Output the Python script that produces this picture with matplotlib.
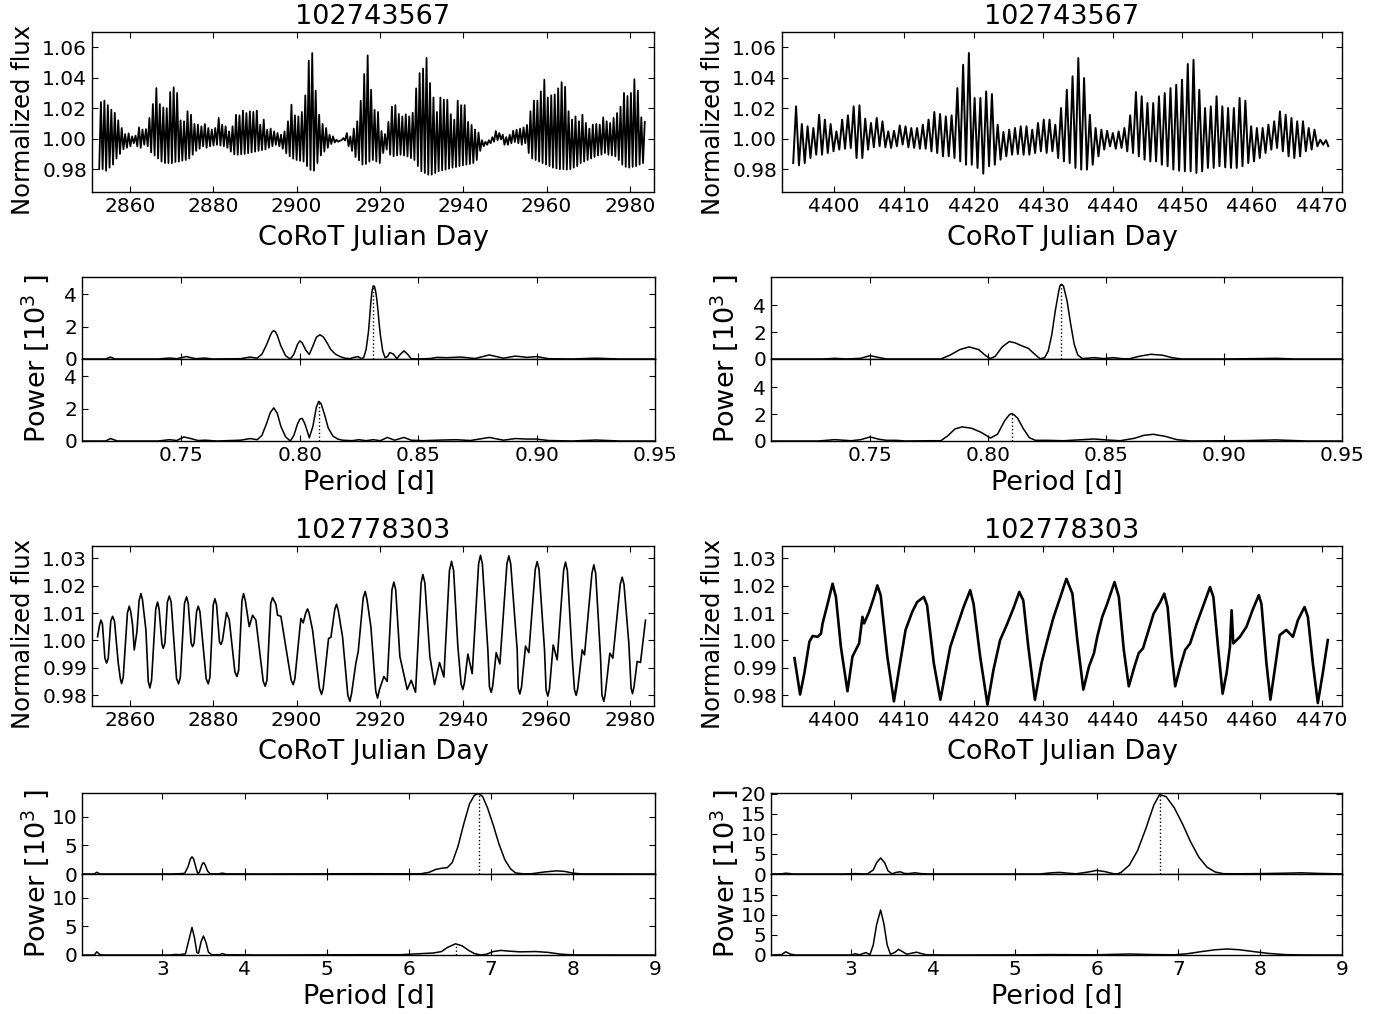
import numpy as np
import matplotlib
matplotlib.use("Agg")
import matplotlib.pyplot as plt

plt.rcParams['font.family'] = ['DejaVu Sans']
plt.rcParams['xtick.direction'] = 'in'
plt.rcParams['ytick.direction'] = 'in'
plt.rcParams['xtick.top'] = True
plt.rcParams['ytick.right'] = True
plt.rcParams['xtick.major.size'] = 4
plt.rcParams['ytick.major.size'] = 4
plt.rcParams['xtick.labelsize'] = 14.5
plt.rcParams['ytick.labelsize'] = 14.5
plt.rcParams['axes.linewidth'] = 1.0

# ---------------- data ----------------
titles = ["102743567", "102743567", "102778303", "102778303"]

# Star 102743567, run 1: peak and trough flux per pulsation cycle
lc1a_t0, lc1a_period = 2853.04, 0.8315
lc1a_peaks = [1.024, 1.025, 1.022, 1.019, 1.017, 1.012, 1.007, 1.003, 1.0035, 1.0015,
              1.002, 1.0074, 1.006, 1.0063, 1.0136, 1.0227, 1.0332, 1.0227, 1.0205, 1.020,
              1.0306, 1.0337, 1.030, 1.012, 1.0114, 1.018, 1.0157, 1.0096, 1.0092, 1.0081,
              1.0096, 1.007, 1.006, 1.007, 1.0136, 1.0092, 1.0081, 1.0048, 1.0081, 1.0157,
              1.0153, 1.0184, 1.0168, 1.0179, 1.0175, 1.0184, 1.0092, 1.0125, 1.0059, 1.0066,
              1.0048, 1.0037, 1.0026, 1.0048, 1.0114, 1.0223, 1.0153, 1.0146, 1.0175, 1.0284,
              1.0512, 1.0562, 1.0315, 1.0157, 1.0096, 1.007, 1.0026, 1.0015, 0.9993, 0.9987,
              1.0004, 1.0037, 1.0015, 1.0066, 1.0114, 1.0249, 1.0424, 1.0547, 1.0321, 1.019,
              1.0175, 1.005, 1.003, 1.011, 1.021, 1.022, 1.0162, 1.0146, 1.016, 1.0146,
              1.017, 1.033, 1.043, 1.046, 1.053, 1.0365, 1.027, 1.0175, 1.027, 1.0256,
              1.0256, 1.016, 1.0125, 1.025, 1.022, 1.022, 1.011, 1.009, 1.006, 1.004,
              0.999, 0.998, 0.999, 1.001, 1.005, 1.0037, 1.0026, 1.001, 1.0026, 1.0052,
              1.0059, 1.0066, 1.0074, 1.009, 1.018, 1.025, 1.025, 1.031, 1.0387, 1.027,
              1.0284, 1.029, 1.033, 1.037, 1.034, 1.018, 1.0125, 1.0146, 1.0114, 1.0157,
              1.0103, 1.0066, 1.0092, 1.0096, 1.0092, 1.014, 1.0114, 1.0103, 1.0136, 1.0168,
              1.021, 1.030, 1.028, 1.030, 1.039, 1.0315, 1.014, 1.011]
lc1a_troughs = [0.980, 0.980, 0.979, 0.981, 0.983, 0.987, 0.990, 0.993, 0.994, 0.995,
                0.997, 0.995, 0.994, 0.996, 0.995, 0.991, 0.989, 0.987, 0.985, 0.984,
                0.984, 0.984, 0.9847, 0.985, 0.9856, 0.986, 0.987, 0.9895, 0.992, 0.9934,
                0.995, 0.994, 0.995, 0.9955, 0.996, 0.9955, 0.995, 0.994, 0.9915, 0.9897,
                0.9895, 0.9898, 0.990, 0.9905, 0.991, 0.9915, 0.992, 0.9925, 0.993, 0.994,
                0.995, 0.996, 0.995, 0.9934, 0.9905, 0.9884, 0.9869, 0.986, 0.9855, 0.985,
                0.982, 0.9795, 0.979, 0.984, 0.989, 0.9915, 0.994, 0.9965, 0.9975, 0.998,
                0.999, 0.9988, 0.995, 0.992, 0.988, 0.9858, 0.983, 0.9834, 0.985, 0.986,
                0.985, 0.984, 0.9906, 0.9928, 0.9895, 0.9884, 0.989, 0.9895, 0.989, 0.9884,
                0.9873, 0.986, 0.982, 0.9786, 0.9775, 0.9764, 0.9764, 0.9775, 0.9786, 0.9792,
                0.9797, 0.9803, 0.981, 0.9814, 0.982, 0.9825, 0.983, 0.9834, 0.984, 0.986,
                0.992, 0.995, 0.996, 0.997, 0.998, 0.999, 0.9995, 0.996, 0.996, 0.997,
                0.9978, 0.997, 0.996, 0.997, 0.9906, 0.987, 0.986, 0.985, 0.984, 0.983,
                0.982, 0.981, 0.9805, 0.980, 0.980, 0.9797, 0.980, 0.981, 0.982, 0.984,
                0.985, 0.986, 0.987, 0.988, 0.989, 0.9895, 0.9906, 0.9895, 0.989, 0.9884,
                0.986, 0.983, 0.9815, 0.981, 0.9815, 0.982, 0.983, 0.984]

# Star 102743567, run 2
lc1b_t0, lc1b_period = 4394.52, 0.827
lc1b_peaks = [1.0212, 1.0096, 1.0081, 1.0070, 1.0157, 1.0125, 1.0096, 1.0048, 1.0125, 1.0153,
              1.0212, 1.0219, 1.0131, 1.0103, 1.0136, 1.0114, 1.0048, 1.0052, 1.0087, 1.0081,
              1.0070, 1.0070, 1.0092, 1.0125, 1.0175, 1.0162, 1.0146, 1.0153, 1.0332, 1.0485,
              1.0562, 1.0267, 1.0267, 1.0310, 1.0293, 1.0092, 1.0044, 1.0059, 1.0070, 1.0081,
              1.0081, 1.0059, 1.0103, 1.0125, 1.0125, 1.0092, 1.0201, 1.0321,
              1.0409, 1.0529, 1.0398, 1.0157, 1.0070, 1.0059, 1.0052, 1.0037, 1.0048, 1.0070,
              1.0153, 1.0306, 1.0278, 1.0234, 1.0234, 1.0278, 1.0299, 1.0332, 1.0354, 1.0387,
              1.0490, 1.0518, 1.0321, 1.0201, 1.0212, 1.0278, 1.0212, 1.0201, 1.0201, 1.0267,
              1.0249, 1.0081, 1.0070, 1.0070, 1.0092, 1.0114, 1.0179, 1.0157, 1.0136, 1.0114,
              1.0114, 1.0070, 1.0059, 0.9993, 0.999]
lc1b_troughs = [0.984, 0.9825, 0.984, 0.9873, 0.9895, 0.9895, 0.9906, 0.9917, 0.9928, 0.9934,
                0.9939, 0.9873, 0.9873, 0.9928, 0.9943, 0.9950, 0.9943, 0.9939, 0.9950, 0.9961,
                0.9943, 0.9939, 0.9934, 0.9934, 0.9917, 0.9906, 0.9884, 0.9884, 0.9873, 0.9851,
                0.9829, 0.9829, 0.9808, 0.977, 0.9819, 0.9829, 0.9862, 0.9884, 0.9895, 0.9899,
                0.9895, 0.9895, 0.9906, 0.9917, 0.9906, 0.9917, 0.9873, 0.9851,
                0.984, 0.9808, 0.9797, 0.9797, 0.9829, 0.9884, 0.9928, 0.995, 0.9934, 0.9939,
                0.9917, 0.9906, 0.9884, 0.9862, 0.9851, 0.9851, 0.9829, 0.9819, 0.9797, 0.979,
                0.9786, 0.9786, 0.9775, 0.9786, 0.9808, 0.9808, 0.9819, 0.9812, 0.9808, 0.9808,
                0.9819, 0.984, 0.9851, 0.9873, 0.9906, 0.9928, 0.9939, 0.9917, 0.9884, 0.9873,
                0.9884, 0.9917, 0.9928, 0.995, 0.996]
lc1b_end = 0.995

# Star 102778303, run 1
lc2a_t = [2852.24, 2852.70, 2853.04, 2853.40, 2854.00, 2854.40, 2854.80, 2855.40, 2855.84, 2856.30,
          2857.20, 2857.70, 2858.00, 2858.40, 2859.40, 2859.84, 2860.20, 2860.64, 2861.04, 2861.68,
          2862.20, 2862.64, 2863.00, 2863.84, 2864.40, 2864.80, 2865.20, 2866.20, 2866.64, 2867.00,
          2867.70, 2868.00, 2868.40, 2869.00, 2869.44, 2869.90, 2871.20, 2871.68, 2872.10, 2873.10,
          2873.60, 2874.00, 2874.70, 2875.04, 2875.40, 2876.00, 2876.40, 2876.80, 2878.30, 2878.80,
          2879.20, 2880.00, 2880.40, 2880.80, 2881.50, 2881.84, 2882.20, 2883.20, 2883.84, 2885.20,
          2885.68, 2886.10, 2886.90, 2887.28, 2887.70, 2888.64, 2889.44, 2890.24, 2892.00, 2892.48,
          2892.90, 2893.80, 2894.24, 2895.04, 2895.44, 2896.24, 2898.70, 2899.20, 2899.60, 2901.04,
          2901.60, 2902.20, 2902.64, 2903.00, 2903.84, 2905.50, 2906.00, 2906.40, 2907.68, 2908.24,
          2909.20, 2909.60, 2910.00, 2911.04, 2912.30, 2912.80, 2913.20, 2914.24, 2914.80, 2916.00,
          2916.48, 2916.90, 2917.84, 2919.00, 2919.44, 2919.90, 2920.96, 2921.76, 2922.90, 2923.36,
          2923.80, 2924.80, 2926.56, 2927.52, 2928.56, 2929.90, 2930.32, 2930.80, 2932.00, 2933.12,
          2934.32, 2935.36, 2936.70, 2937.20, 2937.70, 2938.72, 2939.50, 2939.92, 2940.30, 2941.12,
          2942.16, 2943.70, 2944.16, 2944.60, 2945.92, 2946.30, 2946.72, 2947.10, 2947.92, 2948.80,
          2950.50, 2950.96, 2951.40, 2952.96, 2953.20, 2953.60, 2954.00, 2954.96, 2955.76, 2957.30,
          2957.76, 2958.20, 2959.52, 2959.90, 2960.32, 2960.70, 2961.60, 2962.56, 2964.10, 2964.56,
          2965.00, 2966.16, 2966.70, 2967.12, 2967.50, 2968.56, 2969.12, 2970.90, 2971.36, 2971.80,
          2972.96, 2973.30, 2973.76, 2974.10, 2975.20, 2975.92, 2977.70, 2978.16, 2978.60, 2979.76,
          2980.30, 2980.64, 2981.00, 2981.76, 2982.56, 2983.76]
lc2a_f = [1.0013, 1.0055, 1.0074, 1.0060, 0.9935, 0.9917, 0.9935, 1.0070, 1.0088, 1.0070,
          0.9917, 0.9860, 0.9842, 0.9865, 1.0100, 1.0125, 1.0105, 1.0056, 0.9965, 1.0031,
          1.0145, 1.0171, 1.0150, 1.0038, 0.9850, 0.9826, 0.9855, 1.0115, 1.0140, 1.0115,
          0.9985, 0.9971, 0.9990, 1.0140, 1.0162, 1.0140, 0.9860, 0.9841, 0.9865, 1.0135,
          1.0159, 1.0135, 0.9990, 0.9977, 0.9990, 1.0105, 1.0125, 1.0105, 0.9860, 0.9841,
          0.9865, 1.0130, 1.0152, 1.0130, 0.9995, 0.9985, 0.9998, 1.0102, 1.0076, 0.9885,
          0.9868, 0.9890, 1.0145, 1.0171, 1.0145, 1.0050, 1.0092, 1.0074, 0.9850, 0.9832,
          0.9855, 1.0135, 1.0156, 1.0132, 1.0092, 1.0088, 0.9855, 0.9838, 0.9860, 1.0080,
          1.0064, 1.0100, 1.0115, 1.0100, 1.0038, 0.9825, 0.9802, 0.9825, 1.0007, 1.0011,
          1.0115, 1.0132, 1.0110, 1.0013, 0.9800, 0.9777, 0.9805, 0.9917, 0.9959, 1.0155,
          1.0179, 1.0150, 1.0050, 0.9815, 0.9789, 0.9820, 0.9868, 0.9850, 1.0185, 1.0213,
          1.0185, 0.9941, 0.9820, 0.9854, 0.9810, 1.0210, 1.0241, 1.0210, 0.9941, 0.9838,
          0.9919, 0.9866, 1.0255, 1.0289, 1.0255, 0.9977, 0.9840, 0.9820, 0.9845, 0.9950,
          0.9878, 1.0280, 1.0311, 1.0280, 0.9965, 0.9830, 0.9810, 0.9835, 0.9955, 0.9914,
          1.0280, 1.0309, 1.0280, 0.9965, 0.9825, 0.9804, 0.9830, 0.9979, 0.9955, 1.0260,
          1.0288, 1.0260, 0.9965, 0.9818, 0.9796, 0.9822, 0.9983, 0.9929, 1.0255, 1.0286,
          1.0255, 0.9941, 0.9820, 0.9799, 0.9825, 0.9965, 0.9947, 1.0245, 1.0276, 1.0245,
          0.9941, 0.9800, 0.9777, 0.9805, 0.9953, 0.9935, 1.0205, 1.0231, 1.0205, 0.9989,
          0.9825, 0.9805, 0.9830, 0.9923, 0.9919, 1.0074]

# Star 102778303, run 2
lc2b_t = [4394.29, 4395.10, 4395.71, 4396.43, 4396.90, 4397.62, 4398.10, 4398.33, 4399.05, 4399.76,
          4400.24, 4400.95, 4401.90, 4402.62, 4403.57, 4404.05, 4404.29, 4405.00, 4405.71, 4406.19,
          4406.67, 4407.62, 4408.57, 4409.29, 4410.24, 4411.19, 4411.90, 4412.86, 4413.33, 4414.29,
          4415.24, 4415.95, 4416.67, 4417.62, 4418.57, 4419.52, 4420.00, 4420.95, 4422.00, 4422.86,
          4423.81, 4424.76, 4425.71, 4426.57, 4427.14, 4427.86, 4428.81, 4429.76, 4430.48, 4431.43,
          4432.14, 4433.33, 4434.19, 4434.90, 4435.76, 4436.57, 4437.29, 4437.76, 4438.48, 4439.19,
          4440.24, 4440.86, 4441.57, 4442.29, 4443.10, 4443.71, 4444.33, 4445.14, 4445.86, 4446.81,
          4447.38, 4447.86, 4448.48, 4448.95, 4449.67, 4450.38, 4451.10, 4452.05, 4453.00, 4453.95,
          4454.43, 4455.14, 4455.76, 4456.33, 4456.81, 4457.05, 4457.29, 4458.24, 4459.19, 4460.05,
          4460.95, 4461.33, 4462.05, 4462.62, 4463.24, 4463.95, 4464.90, 4465.86, 4466.57, 4467.52,
          4468.00, 4468.71, 4469.43, 4470.14, 4470.86]
lc2b_f = [0.9935, 0.9802, 0.9880, 0.9995, 1.0016, 1.0013, 1.0025, 1.0062, 1.0134, 1.0207,
          1.0159, 0.9977, 0.9814, 0.9941, 0.9989, 1.0086, 1.0062, 1.0104, 1.0159, 1.0201,
          1.0165, 0.9941, 0.9777, 0.9892, 1.0038, 1.0104, 1.0140, 1.0159, 1.0128, 0.9917,
          0.9783, 0.9880, 0.9977, 1.0050, 1.0122, 1.0183, 1.0134, 0.9941, 0.9765, 0.9892,
          1.0001, 1.0056, 1.0116, 1.0177, 1.0146, 0.9977, 0.9783, 0.9917, 0.9989, 1.0080,
          1.0134, 1.0225, 1.0171, 1.0001, 0.9820, 0.9904, 0.9953, 1.0013, 1.0086, 1.0134,
          1.0213, 1.0159, 0.9965, 0.9832, 0.9904, 0.9953, 0.9971, 1.0038, 1.0098, 1.0140,
          1.0171, 1.0122, 0.9941, 0.9832, 0.9904, 0.9965, 0.9989, 1.0062, 1.0128, 1.0195,
          1.0159, 0.9965, 0.9805, 0.9880, 0.9977, 1.0110, 0.9989, 1.0013, 1.0050, 1.0110,
          1.0165, 1.0134, 0.9917, 0.9783, 0.9892, 1.0019, 1.0038, 1.0013, 1.0074, 1.0122,
          1.0086, 0.9917, 0.9771, 0.9880, 1.0001]

# Periodograms (period [d], power [10^3])
pg1a_top_p = [0.708, 0.718, 0.720, 0.722, 0.740, 0.745, 0.748, 0.752, 0.756, 0.760, 0.763, 0.775,
              0.779, 0.782, 0.784, 0.786, 0.7875, 0.7883, 0.789, 0.7897, 0.7905, 0.792, 0.794,
              0.796, 0.7975, 0.799, 0.800, 0.801, 0.8025, 0.804, 0.8055, 0.807, 0.8085, 0.810,
              0.8115, 0.813, 0.815, 0.817, 0.819, 0.821, 0.823, 0.8245, 0.826, 0.827, 0.828,
              0.829, 0.8295, 0.830, 0.8305, 0.831, 0.8315, 0.832, 0.8325, 0.833, 0.8335, 0.834,
              0.835, 0.836, 0.837, 0.838, 0.8395, 0.841, 0.8425, 0.844, 0.8455, 0.847, 0.850,
              0.855, 0.858, 0.862, 0.868, 0.874, 0.880, 0.886, 0.891, 0.896, 0.900, 0.905,
              0.915, 0.925, 0.935, 0.95]
pg1a_top_w = [0, 0, 0.12, 0, 0, 0.06, 0.02, 0.15, 0.02, 0.06, 0, 0.02,
              0.12, 0.05, 0.3, 0.9, 1.45, 1.68, 1.75, 1.68, 1.45, 0.8, 0.2,
              0.0, 0.3, 0.9, 1.12, 1.0, 0.55, 0.28, 0.8, 1.35, 1.5, 1.35,
              1.0, 0.6, 0.3, 0.15, 0.05, 0.02, 0.1, 0.15, 0.02, 0.1, 0.6,
              1.7, 2.6, 3.5, 4.2, 4.52, 4.5, 4.2, 3.7, 3.0, 2.2, 1.5,
              0.5, 0.08, 0.15, 0.4, 0.3, 0.03, 0.3, 0.5, 0.3, 0.02, 0,
              0.03, 0.1, 0.08, 0.12, 0.03, 0.25, 0.05, 0.18, 0.1, 0.15, 0.02,
              0.0, 0.05, 0, 0]
pg1a_bot_p = [0.708, 0.718, 0.720, 0.723, 0.740, 0.745, 0.748, 0.751, 0.754, 0.757, 0.760, 0.765,
              0.775, 0.779, 0.782, 0.784, 0.786, 0.7875, 0.789, 0.7905, 0.792, 0.794, 0.796,
              0.7975, 0.799, 0.800, 0.801, 0.802, 0.8025, 0.804, 0.8055, 0.807, 0.808, 0.809,
              0.8105, 0.812, 0.814, 0.816, 0.818, 0.822, 0.825, 0.828, 0.831, 0.834, 0.837,
              0.840, 0.844, 0.847, 0.852, 0.860, 0.866, 0.872, 0.880, 0.886, 0.891, 0.896,
              0.900, 0.905, 0.915, 0.925, 0.935, 0.95]
pg1a_bot_w = [0, 0, 0.15, 0, 0, 0.08, 0.03, 0.25, 0.15, 0.03, 0.05, 0,
              0.05, 0.15, 0.08, 0.35, 1.1, 1.75, 2.05, 1.7, 0.9, 0.25, 0.0,
              0.35, 1.05, 1.35, 1.4, 1.1, 0.9, 0.2, 0.9, 2.1, 2.45, 2.3,
              1.6, 0.8, 0.3, 0.12, 0.05, 0.02, 0.08, 0.02, 0.08, 0.02, 0.22,
              0.05, 0.22, 0.05, 0.02, 0.06, 0.08, 0.03, 0.22, 0.05, 0.15, 0.12,
              0.12, 0.03, 0.0, 0.06, 0, 0]
pg1b_top_p = [0.708, 0.730, 0.735, 0.740, 0.746, 0.750, 0.754, 0.757, 0.770, 0.780, 0.784, 0.788,
              0.792, 0.796, 0.799, 0.801, 0.803, 0.806, 0.809, 0.8115, 0.814, 0.817, 0.8195,
              0.822, 0.824, 0.8255, 0.827, 0.8285, 0.830, 0.8305, 0.831, 0.8315, 0.832, 0.8335,
              0.835, 0.8365, 0.838, 0.840, 0.845, 0.849, 0.853, 0.857, 0.860, 0.864, 0.869,
              0.874, 0.878, 0.882, 0.900, 0.915, 0.922, 0.930, 0.95]
pg1b_top_w = [0, 0, 0.05, 0, 0.05, 0.25, 0.1, 0.0, 0, 0.0, 0.3, 0.7,
              0.9, 0.7, 0.25, 0.03, 0.2, 0.9, 1.3, 1.2, 1.0, 0.8, 0.4,
              0.02, 0.1, 0.6, 1.8, 3.6, 5.1, 5.45, 5.55, 5.52, 5.4, 4.3,
              2.6, 1.1, 0.3, 0.03, 0.1, 0.03, 0.1, 0.02, 0.02, 0.2, 0.35,
              0.28, 0.1, 0.0, 0, 0.03, 0.05, 0, 0]
pg1b_bot_p = [0.708, 0.728, 0.735, 0.742, 0.746, 0.750, 0.754, 0.757, 0.761, 0.765, 0.775, 0.780,
              0.783, 0.786, 0.789, 0.793, 0.797, 0.801, 0.804, 0.807, 0.809, 0.810, 0.811,
              0.8125, 0.815, 0.8175, 0.820, 0.825, 0.832, 0.840, 0.845, 0.850, 0.856, 0.862,
              0.866, 0.870, 0.875, 0.880, 0.886, 0.910, 0.922, 0.935, 0.95]
pg1b_bot_w = [0, 0, 0.1, 0.02, 0.1, 0.3, 0.12, 0.05, 0.05, 0, 0.02, 0.02,
              0.4, 0.9, 1.05, 0.95, 0.65, 0.22, 0.5, 1.5, 1.95, 2.05, 1.95,
              1.7, 0.9, 0.25, 0.05, 0.05, 0.02, 0.1, 0.15, 0.08, 0.02, 0.2,
              0.42, 0.5, 0.35, 0.1, 0.0, 0.03, 0.08, 0.0, 0]
pg2a_top_p = [2.02, 2.17, 2.2, 2.24, 3.1, 3.2, 3.27, 3.31, 3.34, 3.36, 3.38, 3.41, 3.43, 3.45,
              3.48, 3.5, 3.52, 3.55, 3.58, 3.68, 3.73, 3.78, 4.2, 5.5, 6.0, 6.15, 6.25, 6.33,
              6.4, 6.47, 6.53, 6.6, 6.67, 6.74, 6.8, 6.85, 6.9, 6.96, 7.03, 7.1, 7.17, 7.24,
              7.3, 7.4, 7.5, 7.65, 7.8, 7.9, 8.0, 8.1, 9.0]
pg2a_top_w = [0, 0, 0.3, 0, 0, 0.05, 0.1, 1.2, 2.6, 3.0, 2.6, 1.0, 0.1, 0.3,
              1.6, 2.0, 1.6, 0.5, 0.05, 0.02, 0.15, 0.02, 0, 0.05, 0.02, 0.05, 0.3, 0.8,
              1.0, 1.1, 2.0, 4.8, 8.7, 12.2, 13.7, 14.0, 13.5, 11.5, 8.5, 5.2, 2.5, 0.9,
              0.2, 0.02, 0.05, 0.35, 0.55, 0.45, 0.15, 0.02, 0]
pg2a_bot_p = [2.02, 2.17, 2.2, 2.24, 2.3, 3.1, 3.16, 3.2, 3.28, 3.32, 3.36, 3.39, 3.42, 3.44,
              3.47, 3.5, 3.53, 3.56, 3.6, 3.7, 3.73, 3.77, 4.2, 5.5, 5.9, 6.1, 6.3, 6.4,
              6.47, 6.57, 6.65, 6.73, 6.8, 6.88, 6.95, 7.03, 7.12, 7.2, 7.35, 7.55, 7.7,
              7.85, 8.0, 9.0]
pg2a_bot_w = [0, 0, 0.55, 0.05, 0, 0, 0.1, 0.05, 0.2, 2.5, 4.8, 3.0, 0.4, 0.3,
              2.3, 3.3, 2.2, 0.5, 0.05, 0.05, 0.25, 0.05, 0, 0.05, 0.05, 0.2, 0.35, 0.6,
              1.3, 1.95, 1.6, 0.8, 0.25, 0.0, 0.15, 0.6, 0.8, 0.7, 0.55, 0.6, 0.45,
              0.15, 0.02, 0]
pg2b_top_p = [2.02, 2.15, 2.2, 2.3, 2.9, 3.05, 3.12, 3.2, 3.27, 3.31, 3.36, 3.41, 3.45, 3.5,
              3.55, 3.6, 3.65, 3.7, 3.78, 3.85, 3.95, 5.3, 5.45, 5.55, 5.65, 5.75, 5.9, 6.0,
              6.1, 6.2, 6.25, 6.3, 6.4, 6.5, 6.6, 6.7, 6.77, 6.85, 6.95, 7.05, 7.15, 7.25,
              7.35, 7.45, 7.55, 7.7, 8.0, 8.3, 8.5, 8.7, 9.0]
pg2b_top_w = [0, 0.05, 0.2, 0.0, 0, 0.1, 0.02, 0.05, 1.0, 2.8, 4.0, 2.8, 0.8, 0.05,
              0.4, 0.55, 0.15, 0.1, 0.3, 0.1, 0, 0, 0.3, 0.4, 0.2, 0.05, 0.5, 0.9,
              0.6, 0.1, 0.0, 0.4, 2.2, 5.8, 11.2, 17.2, 19.8, 19.3, 16.5, 12.5, 8.0, 4.2,
              1.7, 0.5, 0.08, 0.05, 0.1, 0.2, 0.3, 0.15, 0.02]
pg2b_bot_p = [2.02, 2.15, 2.2, 2.26, 2.32, 3.0, 3.05, 3.1, 3.18, 3.23, 3.27, 3.31, 3.36, 3.4,
              3.44, 3.48, 3.53, 3.58, 3.63, 3.68, 3.75, 3.8, 3.85, 3.92, 4.2, 5.2, 5.4, 6.0,
              6.4, 6.7, 6.95, 7.1, 7.3, 7.45, 7.6, 7.75, 7.9, 8.1, 8.3, 8.5, 9.0]
pg2b_bot_w = [0, 0.1, 0.8, 0.2, 0, 0, 0.3, 0.05, 0.6, 0.1, 2.5, 7.5, 11.2, 7.8,
              2.5, 0.2, 0.6, 1.4, 0.8, 0.2, 0.5, 0.7, 0.4, 0.05, 0, 0.05, 0.1, 0.05,
              0.25, 0.1, 0.05, 0.3, 0.9, 1.3, 1.5, 1.3, 0.9, 0.4, 0.1, 0.02, 0]

# marked periods: (top period, top power, bottom period, bottom power)
marks = [(0.831, 4.52, 0.808, 2.45), (0.831, 5.55, 0.810, 2.05),
         (6.85, 14.0, 6.57, 1.95), (6.77, 19.8, None, None)]

# ---------------- helpers ----------------
W, H = 1386, 1014
fig = plt.figure(figsize=(W / 100, H / 100), dpi=100, facecolor='white')


def add_ax(x0, y0, x1, y1):
    return fig.add_axes([x0 / W, 1 - y1 / H, (x1 - x0) / W, (y1 - y0) / H])


def ftext(x, y, s, **kw):
    fig.text(x / W, 1 - y / H, s, ha='center', va='center', **kw)


def zigzag(t0, period, peaks, troughs, end=None):
    t, f = [], []
    for i, (pk, tr) in enumerate(zip(peaks, troughs)):
        t += [t0 + period * (i - 0.5), t0 + period * i]
        f += [tr, pk]
    if end is not None:
        t.append(t0 + period * (len(peaks) - 0.6))
        f.append(end)
    return t, f


LFS = 19.5

# ---------------- light curves ----------------
lc_specs = [
    ((92, 32, 654, 192), zigzag(lc1a_t0, lc1a_period, lc1a_peaks, lc1a_troughs),
     (2850.9, 2985.8), (0.965, 1.07), [0.98, 1.00, 1.02, 1.04, 1.06], 1.3),
    ((782, 32, 1342, 192), zigzag(lc1b_t0, lc1b_period, lc1b_peaks, lc1b_troughs, lc1b_end),
     (4392.5, 4472.9), (0.965, 1.07), [0.98, 1.00, 1.02, 1.04, 1.06], 1.4),
    ((92, 546, 654, 706), (lc2a_t, lc2a_f),
     (2850.9, 2985.8), (0.976, 1.0345), [0.98, 0.99, 1.00, 1.01, 1.02, 1.03], 1.2),
    ((782, 546, 1342, 706), (lc2b_t, lc2b_f),
     (4392.5, 4472.9), (0.976, 1.0345), [0.98, 0.99, 1.00, 1.01, 1.02, 1.03], 1.9),
]
for k, (box, (tt, ff), xl, yl, yt, lw) in enumerate(lc_specs):
    ax = add_ax(*box)
    ax.plot(tt, ff, color='black', lw=lw, solid_joinstyle='round')
    ax.set_xlim(*xl)
    ax.set_ylim(*yl)
    ax.set_yticks(yt)
    ax.yaxis.set_major_formatter(matplotlib.ticker.FormatStrFormatter("%.2f"))
    if xl[0] < 3000:
        ax.set_xticks(np.arange(2860, 2981, 20))
    else:
        ax.set_xticks(np.arange(4400, 4471, 10))
    cx = (box[0] + box[2]) / 2
    ftext(cx, box[1] - 15, titles[k], fontsize=LFS)
    ftext(cx, box[3] + 46, "CoRoT Julian Day", fontsize=LFS)
    ftext(box[0] - 69, (box[1] + box[3]) / 2 + 8, "Normalized flux", fontsize=17.5, rotation=90)

# ---------------- periodograms ----------------
pg_specs = [
    ((82, 277, 359, 441, 655), (pg1a_top_p, pg1a_top_w), (pg1a_bot_p, pg1a_bot_w),
     (0.708, 0.95), (0, 5.07), [0, 2, 4], [0, 2, 4], [0.75, 0.80, 0.85, 0.90, 0.95], "%.2f"),
    ((771, 277, 359, 441, 1342), (pg1b_top_p, pg1b_top_w), (pg1b_bot_p, pg1b_bot_w),
     (0.708, 0.95), (0, 6.1), [0, 2, 4], [0, 2, 4], [0.75, 0.80, 0.85, 0.90, 0.95], "%.2f"),
    ((82, 793, 874, 955, 655), (pg2a_top_p, pg2a_top_w), (pg2a_bot_p, pg2a_bot_w),
     (2.02, 9.0), (0, 14.1), [0, 5, 10], [0, 5, 10], [3, 4, 5, 6, 7, 8, 9], "%d"),
    ((771, 793, 874, 955, 1342), (pg2b_top_p, pg2b_top_w), (pg2b_bot_p, pg2b_bot_w),
     (2.02, 9.0), (0, 20.2), [0, 5, 10, 15, 20], [0, 5, 10, 15], [3, 4, 5, 6, 7, 8, 9], "%d"),
]
for k, (box, top, bot, xl, yl, yt_top, yt_bot, xt, xfmt) in enumerate(pg_specs):
    x0, ytop, ymid, ybot, x1 = box
    ax_t = add_ax(x0, ytop, x1, ymid)
    ax_b = add_ax(x0, ymid, x1, ybot)
    ax_t.plot(top[0], top[1], color='black', lw=1.1, solid_joinstyle='round')
    ax_b.plot(bot[0], bot[1], color='black', lw=1.1, solid_joinstyle='round')
    mt, mht, mb, mhb = marks[k]
    ax_t.vlines(mt, 0, mht, colors='black', linestyles=':', lw=1.0)
    if mb is not None:
        ax_b.vlines(mb, 0, mhb, colors='black', linestyles=':', lw=1.0)
    for a, yt in ((ax_t, yt_top), (ax_b, yt_bot)):
        a.set_xlim(*xl)
        a.set_ylim(*yl)
        a.set_yticks(yt)
        a.set_xticks(xt)
    ax_t.tick_params(labelbottom=False)
    ax_b.xaxis.set_major_formatter(matplotlib.ticker.FormatStrFormatter(xfmt))
    cx = (x0 + x1) / 2
    ftext(cx, ybot + 42, "Period [d]", fontsize=LFS)
    ftext(x0 - 47, ymid, r"Power [$10^3$ ]", fontsize=LFS, rotation=90)

fig.savefig("out.png", dpi=100, facecolor='white')
